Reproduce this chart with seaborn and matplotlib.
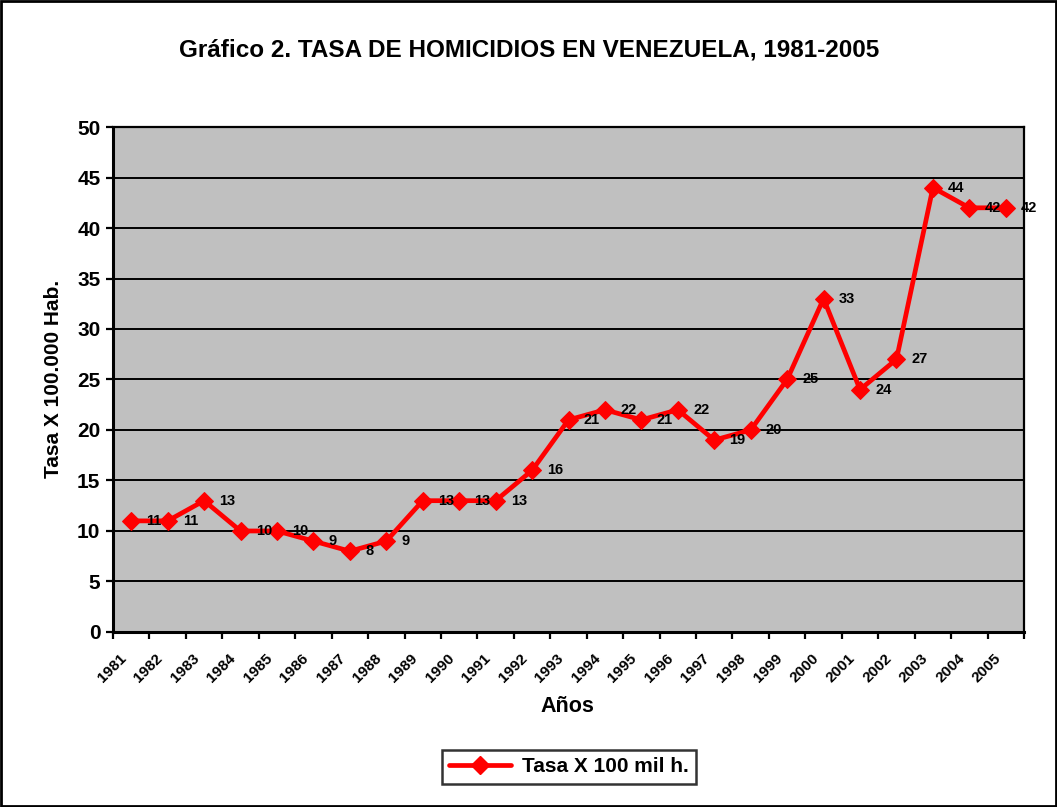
import matplotlib
matplotlib.use("Agg")
import matplotlib.pyplot as plt
from matplotlib.lines import Line2D
from matplotlib.patches import Rectangle
from matplotlib.ticker import MultipleLocator, FixedLocator, NullFormatter
from matplotlib.transforms import ScaledTranslation
import seaborn as sns
import pandas as pd

years = list(range(1981, 2006))
tasa = [11, 11, 13, 10, 10, 9, 8, 9, 13, 13, 13, 16, 21, 22, 21, 22,
        19, 20, 25, 33, 24, 27, 44, 42, 42]
series_name = "Tasa X 100 mil h."
title = "Gráfico 2. TASA DE HOMICIDIOS EN VENEZUELA, 1981-2005"
xlabel = "Años"
ylabel = "Tasa X 100.000 Hab."

df = pd.DataFrame({"year": years, "tasa": tasa})

sns.set_theme(style="white")
plt.rcParams["font.family"] = ["Liberation Sans", "DejaVu Sans"]
plt.rcParams["font.weight"] = "bold"
plt.rcParams["text.color"] = "black"
plt.rcParams["xtick.color"] = "black"
plt.rcParams["ytick.color"] = "black"
plt.rcParams["axes.labelcolor"] = "black"

fig = plt.figure(figsize=(10.57, 8.07), dpi=100)
ax = fig.add_axes([0.1069, 0.2169, 0.8619, 0.6257])
ax.set_facecolor("#C0C0C0")

red = "#FF0000"
sns.lineplot(data=df, x="year", y="tasa", ax=ax, color=red, lw=3.4,
             marker="D", markersize=9.5, markeredgecolor=red, zorder=3)

# value labels to the right of each point
for x, y in zip(years, tasa):
    ax.annotate(f"{y}", (x, y), xytext=(11, 0), textcoords="offset points",
                ha="left", va="center", fontsize=10.5, fontweight="bold",
                color="black", zorder=4)

ax.set_xlim(years[0] - 0.5, years[-1] + 0.5)
ax.set_ylim(0, 50)
ax.yaxis.set_major_locator(MultipleLocator(5))
ax.grid(axis="y", color="black", lw=1.4)
ax.set_axisbelow(True)

# tick marks on category boundaries, year labels slanted under each category
ax.xaxis.set_major_locator(FixedLocator([y - 0.5 for y in years] + [years[-1] + 0.5]))
ax.xaxis.set_major_formatter(NullFormatter())
ax.tick_params(axis="x", length=5, width=1.6, color="black",
               direction="out", bottom=True)
label_tf = ax.get_xaxis_transform() + ScaledTranslation(-0.12, -0.19, fig.dpi_scale_trans)
for yr in years:
    ax.text(yr, 0, str(yr), transform=label_tf, rotation=45, ha="right",
            va="top", rotation_mode="anchor", fontsize=11, fontweight="bold")

ax.tick_params(axis="y", length=5, width=1.6, color="black", direction="out",
               left=True, labelsize=15, pad=4)
for lab in ax.get_yticklabels():
    lab.set_fontweight("bold")

for s in ax.spines.values():
    s.set_visible(True)
    s.set_color("black")
    s.set_linewidth(1.6)
ax.spines["left"].set_linewidth(2.2)
ax.spines["bottom"].set_linewidth(2.2)

ax.set_xlabel("")
ax.set_ylabel("")
fig.text(0.537, 0.124, xlabel, ha="center", va="center", fontsize=15.5,
         fontweight="bold")
fig.text(0.051, 0.53, ylabel, ha="center", va="center", rotation=90,
         fontsize=15, fontweight="bold")
fig.text(0.501, 0.938, title, ha="center", va="center", fontsize=17.5,
         fontweight="bold")

handle = Line2D([], [], color=red, lw=3.4, marker="D", markersize=9.5,
                markeredgecolor=red)
leg = fig.legend([handle], [series_name], loc="center",
                 bbox_to_anchor=(0.538, 0.0496), frameon=True, fancybox=False,
                 edgecolor="black", prop={"size": 15, "weight": "bold"},
                 handlelength=3.0, borderpad=0.35, handletextpad=0.5)
leg.get_frame().set_linewidth(1.8)

fig.patches.append(Rectangle((0.001, 0.001), 0.998, 0.998, transform=fig.transFigure,
                             fill=False, edgecolor="black", lw=2))

fig.savefig("out.png", dpi=100)
